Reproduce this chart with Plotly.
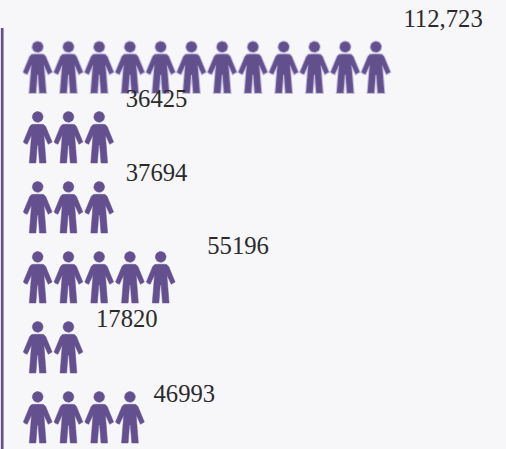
import math
import plotly.graph_objects as go

# --- data ---
value_labels = ["112,723", "36425", "37694", "55196", "17820", "46993"]
icon_counts = [12, 3, 3, 5, 2, 4]

# --- layout constants (pixels of the 506x449 page) ---
W, H = 506, 449
PITCH_X, PITCH_Y = 30.75, 70.0
FIRST_X, FIRST_Y = 37.7, 41.5
RULE_X, RULE_TOP = 2.2, 28
LABEL_GAP = [13.2, 12.2, 12.2, 32.2, 13.2, 9.2]
LABEL_DY = [-20.5, -10.5, -7, -4, -0.5, 4.5]
INK = "#65508f"
BG = "#f7f7fa"
TEXT = "#2b2b2b"

# person glyph: pixel offsets from the icon's top centre
body = [(-3, 12.8), (-6, 13), (-8, 15), (-14.4, 30.5), (-13, 31.8), (-10.5, 32.8), (-6.2, 23.5),
        (-7, 34), (-8.4, 51.5), (-1.8, 51.5), (-0.4, 33.5), (0.4, 33.5), (1.8, 51.5), (8.4, 51.5),
        (7, 34), (6.2, 23.5), (10.5, 32.8), (13, 31.8), (14.4, 30.5), (8, 15), (6, 13), (3, 12.8)]
head = [(5.4 * math.cos(a * math.pi / 12), 5.4 + 5.4 * math.sin(a * math.pi / 12)) for a in range(24)]


def glyphs(row, count):
    xs, ys = [], []
    for i in range(count):
        for part in (body, head):
            pts = part + part[:1]
            xs += [i + dx / PITCH_X for dx, _ in pts] + [None]
            ys += [row + dy / PITCH_Y for _, dy in pts] + [None]
    return xs, ys


def to_x(px):
    return (px - FIRST_X) / PITCH_X


def to_y(px):
    return (px - FIRST_Y) / PITCH_Y


fig = go.Figure()
fig.add_trace(go.Scatter(x=[to_x(RULE_X)] * 2, y=[to_y(RULE_TOP), to_y(H)], mode="lines",
                         line=dict(color=INK, width=2.7), hoverinfo="skip", showlegend=False))
for r, n in enumerate(icon_counts):
    xs, ys = glyphs(r, n)
    blurred = r == 0
    fig.add_trace(go.Scatter(
        x=xs, y=ys, mode="lines", fill="toself", fillcolor="#62508c" if blurred else INK,
        line=dict(color="rgba(125,105,175,0.4)" if blurred else INK, width=2 if blurred else 0.5),
        hoverinfo="skip", showlegend=False))
    lx = n - 1 + (14.3 + LABEL_GAP[r]) / PITCH_X
    ly = r + LABEL_DY[r] / PITCH_Y
    fig.add_trace(go.Scatter(
        x=[lx], y=[ly], mode="text", text=[value_labels[r]], textposition="middle right",
        textfont=dict(family="Liberation Serif", size=24.7, color=TEXT),
        hoverinfo="skip", showlegend=False, cliponaxis=False))

fig.update_layout(
    width=W, height=H, autosize=False, margin=dict(l=0, r=0, t=0, b=0),
    paper_bgcolor=BG, plot_bgcolor=BG,
    xaxis=dict(range=[to_x(0), to_x(W)], visible=False, fixedrange=True),
    yaxis=dict(range=[to_y(H), to_y(0)], visible=False, fixedrange=True),
)
fig.write_html("out.html", config={"displayModeBar": False},
               post_script="document.body.style.margin='0';document.documentElement.style.background='%s';" % BG)
